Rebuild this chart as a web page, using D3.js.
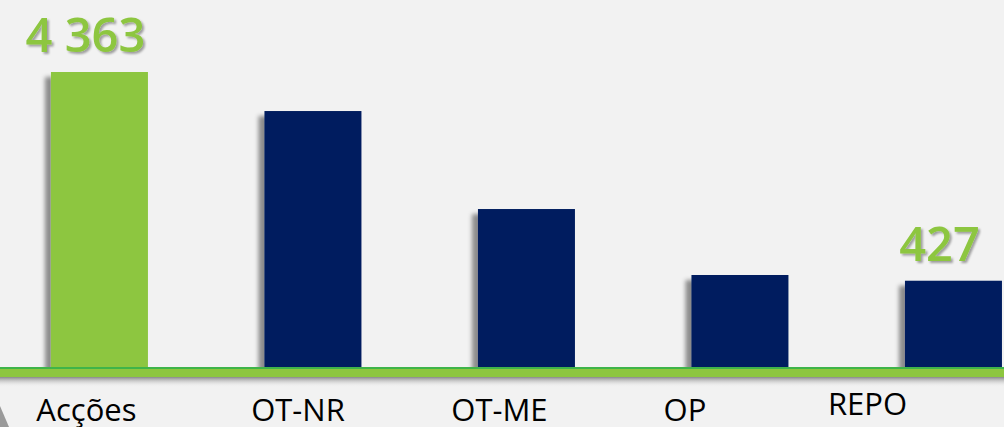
<!DOCTYPE html>
<html>
<head>
<meta charset="utf-8">
<script src="https://cdn.jsdelivr.net/npm/d3@7"></script>
<style>
  html, body { margin: 0; padding: 0; background: #f2f2f2; }
  svg { display: block; }
</style>
</head>
<body>
<svg id="chart"></svg>
<script>
const categories = ["Acções", "OT-NR", "OT-ME", "OP", "REPO"];
const values = [4363, 3627, 1779, 535, 427];
const shownLabels = ["4 363", null, null, null, "427"];
const barColors = ["#8dc63f", "#001f5f", "#001f5f", "#001f5f", "#001f5f"];

const width = 1004;
const height = 427;
const baseline = 367;
const yMin = -1200;

// the category text on the slide does not sit under the bars
const labelNudge = [-13, -15, -27, -55, -86];
const labelLift = [0, 0, 0, 0, 6];

const svg = d3.select("#chart")
  .attr("width", width)
  .attr("height", height);

const defs = svg.append("defs");

const shadow = defs.append("filter")
  .attr("id", "barShadow")
  .attr("x", "-30%").attr("y", "-10%")
  .attr("width", "150%").attr("height", "130%");
shadow.append("feDropShadow")
  .attr("dx", -6).attr("dy", 5)
  .attr("stdDeviation", 2.2)
  .attr("flood-color", "#000")
  .attr("flood-opacity", 0.42);

const textShadow = defs.append("filter")
  .attr("id", "textShadow")
  .attr("x", "-10%").attr("y", "-20%")
  .attr("width", "130%").attr("height", "150%");
textShadow.append("feDropShadow")
  .attr("dx", 2).attr("dy", 2)
  .attr("stdDeviation", 1.2)
  .attr("flood-color", "#000")
  .attr("flood-opacity", 0.35);

const lineShadow = defs.append("linearGradient")
  .attr("id", "lineShadow")
  .attr("x1", 0).attr("y1", 0).attr("x2", 0).attr("y2", 1);
lineShadow.append("stop").attr("offset", "0%").attr("stop-color", "#888").attr("stop-opacity", 1);
lineShadow.append("stop").attr("offset", "100%").attr("stop-color", "#f2f2f2").attr("stop-opacity", 0);

const x = d3.scaleBand()
  .domain(categories)
  .range([-7.3, 1060.2])
  .paddingInner(0.5457)
  .paddingOuter(0.2728);

const y = d3.scaleLinear()
  .domain([yMin, 4363])
  .range([baseline, 72]);

const data = categories.map((c, i) => ({
  category: c,
  value: values[i],
  label: shownLabels[i],
  color: barColors[i],
  nudge: labelNudge[i],
  lift: labelLift[i],
}));

svg.selectAll(".bar")
  .data(data)
  .join("rect")
  .attr("class", "bar")
  .attr("x", d => x(d.category))
  .attr("y", d => y(d.value))
  .attr("width", x.bandwidth())
  .attr("height", d => y(yMin) - y(d.value))
  .attr("fill", d => d.color)
  .attr("filter", "url(#barShadow)");

// baseline
svg.append("rect")
  .attr("x", 0).attr("y", baseline + 10)
  .attr("width", width).attr("height", 10)
  .attr("fill", "url(#lineShadow)");
svg.append("rect")
  .attr("x", 0).attr("y", baseline)
  .attr("width", width).attr("height", 10)
  .attr("fill", "#8dc63f");
svg.append("rect")
  .attr("x", 0).attr("y", baseline)
  .attr("width", width).attr("height", 2)
  .attr("fill", "#3fb449");

svg.selectAll(".cat")
  .data(data)
  .join("text")
  .attr("class", "cat")
  .attr("x", d => x(d.category) + x.bandwidth() / 2 + d.nudge)
  .attr("y", d => 421 - d.lift)
  .attr("text-anchor", "middle")
  .attr("font-family", "'Open Sans', sans-serif")
  .attr("font-size", 31)
  .attr("fill", "#000")
  .text(d => d.category);

svg.selectAll(".val")
  .data(data.filter(d => d.label))
  .join("text")
  .attr("class", "val")
  .attr("x", d => x(d.category) + x.bandwidth() / 2 - 14)
  .attr("y", d => y(d.value) - 20)
  .attr("text-anchor", "middle")
  .attr("font-family", "'Open Sans', sans-serif")
  .attr("font-weight", 600)
  .attr("font-size", 47)
  .attr("fill", "#8dc63f")
  .attr("filter", "url(#textShadow)")
  .text(d => d.label);

// slide corner decoration
svg.append("path")
  .attr("d", "M0,406 L9,427 L0,427 Z")
  .attr("fill", "#9a9a9a");
</script>
</body>
</html>
